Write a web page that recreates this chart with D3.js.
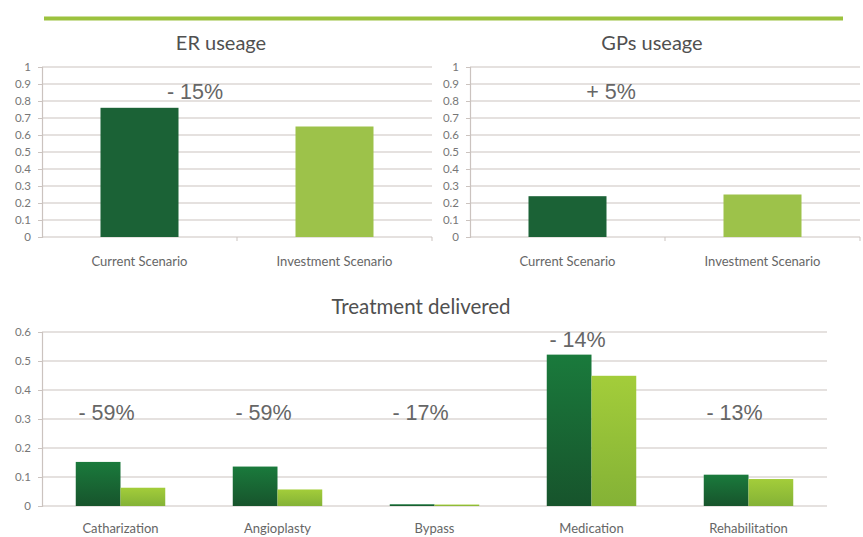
<!DOCTYPE html>
<html><head><meta charset="utf-8">
<script src="https://cdn.jsdelivr.net/npm/d3@7"></script>
<style>
body{margin:0;background:#fff;}
svg{display:block;}
</style></head>
<body>
<svg id="c" width="863" height="537"></svg>
<script>
// ---- data ----
const scenarios = ["Current Scenario", "Investment Scenario"];
const erValues = [0.76, 0.65];
const gpValues = [0.24, 0.25];
const erChange = "- 15%";
const gpChange = "+ 5%";
const topTicks = [0,0.1,0.2,0.3,0.4,0.5,0.6,0.7,0.8,0.9,1];

const treatments = ["Catharization", "Angioplasty", "Bypass", "Medication", "Rehabilitation"];
const treatCurrent = [0.152, 0.136, 0.006, 0.522, 0.108];
const treatInvest  = [0.063, 0.057, 0.005, 0.449, 0.093];
const treatChange  = ["- 59%", "- 59%", "- 17%", "- 14%", "- 13%"];
const bottomTicks = [0,0.1,0.2,0.3,0.4,0.5,0.6];

const svg = d3.select("#c");
const DARK = "#1b6236", LIGHT = "#9dc24a", GRID = "#cbc3bf", TXT = "#666";
const labelFont = "Lato, 'Open Sans', sans-serif";
const pctFont = "'Liberation Sans', Arial, sans-serif";

// gradients
const defs = svg.append("defs");
const gd = defs.append("linearGradient").attr("id","gDark").attr("x1",0).attr("y1",0).attr("x2",0).attr("y2",1);
gd.append("stop").attr("offset","0%").attr("stop-color","#1a7a3c");
gd.append("stop").attr("offset","100%").attr("stop-color","#17542c");
const gl = defs.append("linearGradient").attr("id","gLight").attr("x1",0).attr("y1",0).attr("x2",0).attr("y2",1);
gl.append("stop").attr("offset","0%").attr("stop-color","#a3cd3a");
gl.append("stop").attr("offset","100%").attr("stop-color","#84b236");

// top green rule
svg.append("line").attr("x1",44).attr("x2",843).attr("y1",18.5).attr("y2",18.5)
  .attr("stroke","#9cc23e").attr("stroke-width",4);

function axisY(g, y, x0, x1, ticks, fmt){
  g.selectAll("line.grid").data(ticks).join("line").attr("class","grid")
    .attr("x1",x0).attr("x2",x1).attr("y1",d=>y(d)).attr("y2",d=>y(d))
    .attr("stroke",GRID).attr("stroke-width",1.2);
  const ax = g.append("g").attr("transform",`translate(${x0},0)`)
    .call(d3.axisLeft(y).tickValues(ticks).tickSize(4).tickPadding(7).tickFormat(fmt));
  ax.select(".domain").attr("stroke",GRID).attr("stroke-width",1.2);
  ax.selectAll(".tick line").attr("stroke",GRID);
  ax.selectAll("text").attr("fill","#777").style("font-family",labelFont).style("font-size","11.5px");
}

function topChart(x0, x1, title, titleX, values, change, changeX){
  const g = svg.append("g");
  const y = d3.scaleLinear().domain([0,1]).range([237,67]);
  const x = d3.scaleBand().domain(scenarios).range([x0,x1]).paddingInner(0.6).paddingOuter(0.3);
  axisY(g, y, x0, x1, topTicks, d=>d3.format("")(d));
  g.append("line").attr("x1",(x0+x1)/2).attr("x2",(x0+x1)/2).attr("y1",237).attr("y2",241).attr("stroke",GRID);
  g.append("line").attr("x1",x1).attr("x2",x1).attr("y1",237).attr("y2",241).attr("stroke",GRID);
  g.selectAll("rect.bar").data(values).join("rect").attr("class","bar")
    .attr("x",(d,i)=>x(scenarios[i])).attr("width",x.bandwidth())
    .attr("y",d=>y(d)).attr("height",d=>y(0)-y(d))
    .attr("fill",(d,i)=>i===0?DARK:LIGHT);
  g.selectAll("text.cat").data(scenarios).join("text").attr("class","cat")
    .attr("x",d=>x(d)+x.bandwidth()/2).attr("y",266).attr("text-anchor","middle")
    .attr("fill",TXT).style("font-family",labelFont).style("font-size","13px").text(d=>d);
  g.append("text").attr("x",titleX).attr("y",50).attr("text-anchor","middle")
    .attr("fill","#505050").style("font-family",labelFont).style("font-size","20px").text(title);
  g.append("text").attr("x",changeX).attr("y",99).attr("text-anchor","middle")
    .attr("fill","#666").style("font-family",pctFont).style("font-size","21.5px").text(change);
}

topChart(42, 432, "ER useage", 221, erValues, erChange, 195);
topChart(470, 860, "GPs useage", 652, gpValues, gpChange, 611);

// bottom chart
(function(){
  const g = svg.append("g");
  const x0 = 42, x1 = 827;
  const y = d3.scaleLinear().domain([0,0.6]).range([506,332]);
  const x = d3.scaleBand().domain(treatments).range([x0,x1]).paddingInner(0.43).paddingOuter(0.215);
  axisY(g, y, x0, x1, bottomTicks, d=>d3.format("")(d));
  const inner = d3.scaleBand().domain([0,1]).range([0,x.bandwidth()]);
  const grp = g.selectAll("g.grp").data(treatments).join("g").attr("class","grp")
    .attr("transform",d=>`translate(${x(d)},0)`);
  grp.append("rect").attr("x",inner(0)).attr("width",inner.bandwidth())
    .attr("y",(d,i)=>y(treatCurrent[i])).attr("height",(d,i)=>y(0)-y(treatCurrent[i]))
    .attr("fill","url(#gDark)");
  grp.append("rect").attr("x",inner(1)).attr("width",inner.bandwidth())
    .attr("y",(d,i)=>y(treatInvest[i])).attr("height",(d,i)=>y(0)-y(treatInvest[i]))
    .attr("fill","url(#gLight)");
  g.selectAll("text.cat").data(treatments).join("text").attr("class","cat")
    .attr("x",d=>x(d)+x.bandwidth()/2).attr("y",533).attr("text-anchor","middle")
    .attr("fill",TXT).style("font-family",labelFont).style("font-size","13px").text(d=>d);
  const pctY = [420,420,420,347,420];
  g.selectAll("text.pct").data(treatChange).join("text").attr("class","pct")
    .attr("x",(d,i)=>x(treatments[i])+x.bandwidth()/2-14).attr("y",(d,i)=>pctY[i])
    .attr("text-anchor","middle")
    .attr("fill","#666").style("font-family",pctFont).style("font-size","21.5px").text(d=>d);
  g.append("text").attr("x",421).attr("y",314).attr("text-anchor","middle")
    .attr("fill","#505050").style("font-family",labelFont).style("font-size","20.5px").text("Treatment delivered");
})();
</script>
</body></html>
